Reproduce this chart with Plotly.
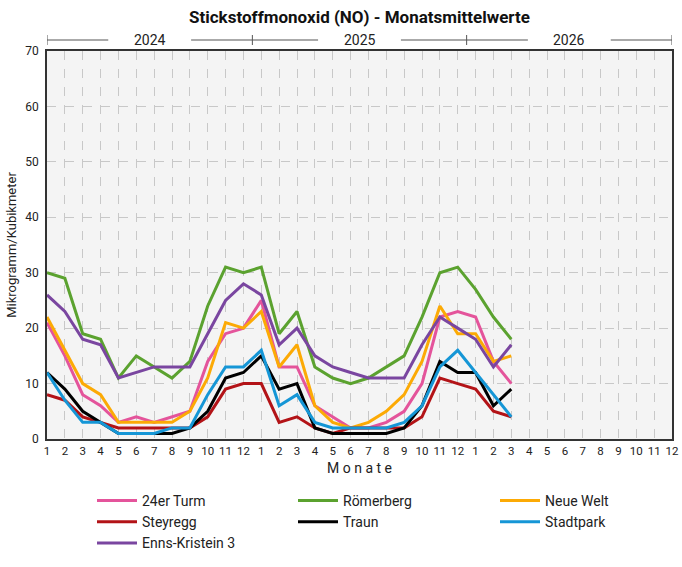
import plotly.graph_objects as go

years = [2024, 2025, 2026]
months_per_year = 12
month_labels = [str(m) for m in range(1, 13)] * len(years)

stations = ["24er Turm", "Römerberg", "Neue Welt", "Steyregg", "Traun", "Stadtpark", "Enns-Kristein 3"]
colors = ["#e4549b", "#5ba22f", "#fcaa05", "#b31317", "#000000", "#1596d6", "#7a46a0"]
legend_slot = ["legend", "legend2", "legend3", "legend", "legend2", "legend3", "legend"]

turm24 = [21, 15, 8, 6, 3, 4, 3, 4, 5, 14, 19, 20,
          25, 13, 13, 6, 4, 2, 2, 3, 5, 10, 22, 23,
          22, 14, 10]
roemerberg = [30, 29, 19, 18, 11, 15, 13, 11, 14, 24, 31, 30,
              31, 19, 23, 13, 11, 10, 11, 13, 15, 22, 30, 31,
              27, 22, 18]
neue_welt = [22, 16, 10, 8, 3, 3, 3, 3, 5, 11, 21, 20,
             23, 13, 17, 6, 3, 2, 3, 5, 8, 14, 24, 19,
             19, 14, 15]
steyregg = [8, 7, 4, 3, 2, 2, 2, 2, 2, 4, 9, 10,
            10, 3, 4, 2, 1, 2, 2, 2, 2, 4, 11, 10,
            9, 5, 4]
traun = [12, 9, 5, 3, 1, 1, 1, 1, 2, 5, 11, 12,
         15, 9, 10, 2, 1, 1, 1, 1, 2, 6, 14, 12,
         12, 6, 9]
stadtpark = [12, 7, 3, 3, 1, 1, 1, 2, 2, 8, 13, 13,
             16, 6, 8, 3, 2, 2, 2, 2, 3, 6, 13, 16,
             12, 8, 4]
enns = [26, 23, 18, 17, 11, 12, 13, 13, 13, 19, 25, 28,
        26, 17, 20, 15, 13, 12, 11, 11, 11, 17, 22, 20,
        18, 13, 17]

series = [turm24, roemerberg, neue_welt, steyregg, traun, stadtpark, enns]

n_total = months_per_year * len(years)
x_all = list(range(n_total))

FONT = "Roboto"

fig = go.Figure()
for name, col, vals, lg in zip(stations, colors, series, legend_slot):
    fig.add_trace(go.Scatter(
        x=x_all[:len(vals)], y=vals, name=name, mode="lines", legend=lg,
        line=dict(color=col, width=3), hoverinfo="x+y+name"))

# year bracket axis on top
shapes = []
annotations = []
y_line = 1 + 11 / 388
tick_h = 5 / 388
gap_half = 2.32
bounds = [0] + [i * months_per_year - 0.5 for i in range(1, len(years))] + [n_total - 1]
for i, yr in enumerate(years):
    a, b = bounds[i], bounds[i + 1]
    c = (a + b) / 2
    for (s, e) in [(a, c - gap_half), (c + gap_half, b)]:
        shapes.append(dict(type="line", xref="x", yref="paper", x0=s, x1=e, y0=y_line, y1=y_line,
                           line=dict(color="#555555", width=1)))
    annotations.append(dict(x=c, y=y_line, xref="x", yref="paper", text=str(yr), showarrow=False,
                            font=dict(family=FONT, size=14, color="#222222"), yanchor="middle"))
for bx in bounds:
    shapes.append(dict(type="line", xref="x", yref="paper", x0=bx, x1=bx, y0=y_line - tick_h, y1=y_line + tick_h,
                       line=dict(color="#555555", width=1)))

leg_common = dict(orientation="v", y=-0.1186, yanchor="top", xanchor="left", itemwidth=40,
                  font=dict(family=FONT, size=14, color="#222222"), bgcolor="rgba(0,0,0,0)",
                  tracegroupgap=0)

fig.update_layout(
    width=682, height=567,
    margin=dict(l=47, r=10, t=51, b=128, autoexpand=False),
    paper_bgcolor="white",
    plot_bgcolor="#f4f4f4",
    title=dict(text="<b>Stickstoffmonoxid (NO) - Monatsmittelwerte</b>", x=0.5, xref="paper",
               y=1 - 17 / 567, yanchor="middle",
               font=dict(family=FONT, size=17, color="#111111")),
    font=dict(family=FONT, size=12, color="#222222"),
    shapes=shapes,
    annotations=annotations,
    showlegend=True,
    legend=dict(x=0.072, **leg_common),
    legend2=dict(x=0.3936, **leg_common),
    legend3=dict(x=0.7168, **leg_common),
)

fig.update_xaxes(
    range=[0, n_total - 1], tickmode="array", tickvals=x_all, ticktext=month_labels,
    showgrid=True, gridcolor="#c8c8c8", griddash="dash", gridwidth=1,
    showline=True, linecolor="#333333", linewidth=1.5, mirror=True,
    zeroline=False, ticks="", tickfont=dict(size=11.5, color="#222222"),
    title=dict(text="M o n a t e", font=dict(family=FONT, size=14, color="#222222"), standoff=7),
)
fig.update_yaxes(
    range=[0, 70], tickmode="linear", tick0=0, dtick=10,
    showgrid=True, gridcolor="#c8c8c8", griddash="dash", gridwidth=1,
    showline=True, linecolor="#333333", linewidth=1.5, mirror=True,
    zeroline=False, ticks="", tickfont=dict(size=12, color="#222222"), ticklabelstandoff=4,
    title=dict(text="Mikrogramm/Kubikmeter", font=dict(family=FONT, size=13, color="#222222"), standoff=6),
)

fig.write_html("out.html")
